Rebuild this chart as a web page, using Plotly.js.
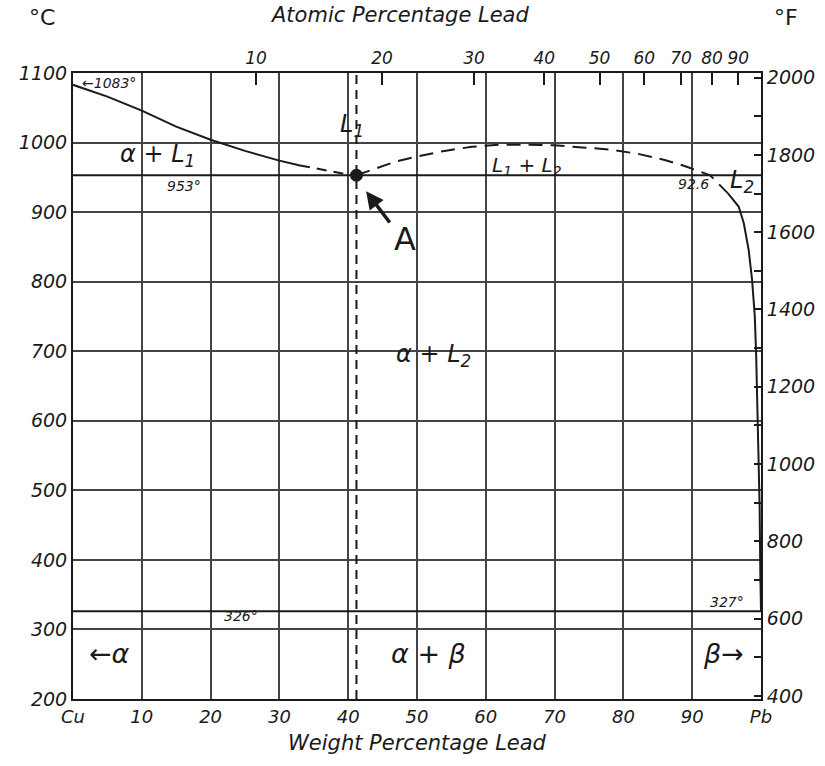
<!DOCTYPE html>
<html><head><meta charset="utf-8">
<script src="https://cdn.plot.ly/plotly-3.0.1.min.js"></script>
<style>html,body{margin:0;padding:0;background:#fff}#chart{width:825px;height:766px}</style>
</head><body><div id="chart"></div>
<script>
// ---- data ----
const wtTicks = [0,10,20,30,40,50,60,70,80,90,100];
const wtTickText = ['Cu','10','20','30','40','50','60','70','80','90','Pb'];
const atTicks = [10,20,30,40,50,60,70,80,90];
const tempC_ticks = [200,300,400,500,600,700,800,900,1000,1100];
const tempF_ticks = [400,600,800,1000,1200,1400,1600,1800,2000];

const liqL1_x = [0,5,10,15,20,25,30,33];
const liqL1_T = [1083,1066,1046,1023,1004,988,974,967];
const liqL1dash_x = [33,36,39,41.2];
const liqL1dash_T = [967,961,956,953];
const dome_x = [41.2,44,47,50,54,58,62,66,70,74,78,82,86,89,92.6,95.2];
const dome_T = [953,963,973,980,988,994,997,997,996,993,990,984,975,966,953,927];
const liqL2_x = [95.2,96.3,96.75,97.5,98.2,98.7,99.1,99.3,99.5,99.66,99.8,99.9,100];
const liqL2_T = [927,913,908,884,846,803,750,693,621,549,477,382,327];
const monotectic_T = 953;
const eutectic_T = 326;
const monotectic_x = 41.2;

// atomic % Pb -> weight % Pb (axis mapping for the top scale)
const M_Pb = 207.2, M_Cu = 63.55;
const atToWt = a => 100*a*M_Pb/(a*M_Pb + (100-a)*M_Cu);

const FONT = 'DejaVu Sans, Liberation Sans, sans-serif';
const INK = '#1a1a1a';

const traces = [
  {x:liqL1_x, y:liqL1_T, mode:'lines', line:{color:INK,width:2}},
  {x:liqL1dash_x, y:liqL1dash_T, mode:'lines', line:{color:INK,width:2,dash:'10px,7px'}},
  {x:dome_x, y:dome_T, mode:'lines', line:{color:INK,width:2,dash:'14px,8px'}},
  {x:liqL2_x, y:liqL2_T, mode:'lines', line:{color:INK,width:2}},
  {x:[0,100], y:[monotectic_T,monotectic_T], mode:'lines', line:{color:INK,width:2}},
  {x:[0,100], y:[eutectic_T,eutectic_T], mode:'lines', line:{color:INK,width:2}},
  {x:[monotectic_x,monotectic_x], y:[200,1100], mode:'lines', line:{color:INK,width:2,dash:'9px,6px'}},
  {x:[monotectic_x], y:[monotectic_T], mode:'markers', marker:{color:INK,size:13}},
  {x:[0,100], y:[200,200], xaxis:'x2', mode:'lines', line:{width:0}, hoverinfo:'skip'},
  {x:[0,100], y:[392,2012], yaxis:'y2', mode:'lines', line:{width:0}, hoverinfo:'skip'}
];

const tickFont = {family:FONT, size:19, color:INK, style:'italic', weight:300};
const smallFont = {family:FONT, size:14, color:INK, style:'italic', weight:300};
const labFont = {family:FONT, size:24, color:INK, style:'italic', weight:300};
const bigLab = {family:FONT, size:27, color:INK, style:'italic', weight:300};

function ann(x,y,text,font,extra){return Object.assign({x:x,y:y,xref:'x',yref:'y',text:text,showarrow:false,font:font},extra||{});}
function pann(x,y,text,font){return {xref:'paper',yref:'paper',x:x,y:y,xanchor:'center',yanchor:'middle',text:text,showarrow:false,font:font};}

const layout = {
  width:825, height:766,
  margin:{l:73,r:64,t:73,b:67},
  paper_bgcolor:'#fff', plot_bgcolor:'#fff',
  showlegend:false, hovermode:false, dragmode:false,
  xaxis:{range:[0,100], fixedrange:true, tickvals:wtTicks, ticktext:wtTickText, showgrid:true, gridcolor:'#444', gridwidth:2,
    zeroline:false, showline:true, linecolor:INK, linewidth:2, ticks:'', tickfont:{family:FONT,size:18,color:INK,style:'italic',weight:300},
    title:{text:'Weight Percentage Lead', font:{family:FONT,size:21,color:INK,style:'italic',weight:300}, standoff:10}},
  xaxis2:{range:[0,100], fixedrange:true, overlaying:'x', side:'top', tickvals:atTicks.map(atToWt), ticktext:atTicks.map(String),
    ticks:'inside', ticklen:12, tickwidth:2, tickcolor:INK, showgrid:false, zeroline:false,
    showline:true, linecolor:INK, linewidth:2, tickfont:{family:FONT,size:17,color:INK,style:'italic',weight:300}},
  yaxis:{range:[200,1100], fixedrange:true, tickvals:tempC_ticks, showgrid:true, gridcolor:'#444', gridwidth:2, zeroline:false,
    showline:true, linecolor:INK, linewidth:2, ticks:'', tickfont:tickFont},
  yaxis2:{range:[392,2012], fixedrange:true, overlaying:'y', side:'right', tickvals:tempF_ticks, ticks:'inside', ticklen:7, tickwidth:2,
    tickcolor:INK, minor:{dtick:100, tick0:0, ticks:'inside', ticklen:7, tickwidth:2, tickcolor:INK, showgrid:false},
    showgrid:false, zeroline:false, showline:true, linecolor:INK, linewidth:2, tickfont:tickFont},
  annotations:[
    pann(-0.045,1.088,'°C',{family:FONT,size:22,color:INK}),
    pann(1.036,1.088,'°F',{family:FONT,size:22,color:INK}),
    pann(0.475,1.093,'Atomic Percentage Lead',{family:FONT,size:21,color:INK,style:'italic',weight:300}),
    ann(5.2,1085,'←1083°',smallFont),
    ann(12.3,982,'α + L<sub>1</sub>',labFont),
    ann(16.2,937,'953°',smallFont),
    ann(40.6,1024,'L<sub>1</sub>',labFont),
    ann(66,966,'L<sub>1</sub> + L<sub>2</sub>',{family:FONT,size:20,color:INK,style:'italic',weight:300}),
    ann(90.2,940,'92.6',smallFont),
    ann(97.2,944,'L<sub>2</sub>',labFont),
    ann(48.3,862,'A',{family:FONT,size:32,color:INK}),
    {x:42.6,y:930,ax:46.2,ay:883,xref:'x',yref:'y',axref:'x',ayref:'y',text:'',showarrow:true,arrowhead:2,arrowsize:1,arrowwidth:3.5,arrowcolor:INK},
    ann(52.4,694,'α + L<sub>2</sub>',labFont),
    ann(24.4,320,'326°',smallFont),
    ann(95,340,'327°',smallFont),
    ann(5.3,265,'←α',bigLab),
    ann(51.7,265,'α + β',bigLab),
    ann(94.6,265,'β→',bigLab)
  ]
};

Plotly.newPlot('chart', traces, layout, {displayModeBar:false, responsive:false});
</script></body></html>
